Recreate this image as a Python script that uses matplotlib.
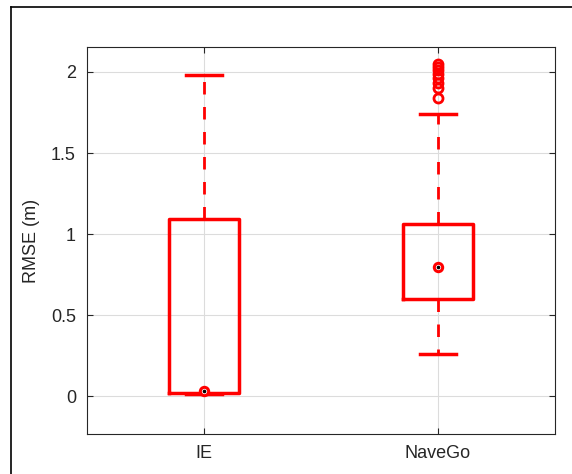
import matplotlib
matplotlib.use("Agg")
import matplotlib.pyplot as plt
from matplotlib.lines import Line2D

plt.rcParams['font.family'] = ['Liberation Sans', 'DejaVu Sans']
plt.rcParams['lines.scale_dashes'] = False

categories = ["IE", "NaveGo"]
medians = [0.035, 0.794]
q1 = [0.02, 0.60]
q3 = [1.094, 1.062]
whislo = [0.011, 0.259]
whishi = [1.98, 1.743]
fliers_ie = []
fliers_navego = [1.84, 1.90, 1.93, 1.96, 1.99, 2.01, 2.03, 2.05]
fliers = [fliers_ie, fliers_navego]
yticks = [0, 0.5, 1, 1.5, 2]
yticklabels = ["0", "0.5", "1", "1.5", "2"]

positions = [1, 2]
stats = []
for i in range(len(categories)):
    stats.append(dict(med=medians[i], q1=q1[i], q3=q3[i], whislo=whislo[i],
                      whishi=whishi[i], fliers=fliers[i], label=categories[i]))

fig = plt.figure(figsize=(5.72, 4.74), dpi=100)
ax = fig.add_axes([87/572, 1 - 434/474, (555 - 87)/572, (434 - 47)/474])

red = '#ff0000'
ax.bxp(stats, positions=positions, widths=0.3, capwidths=0.15,
       boxprops=dict(color=red, linewidth=2.5),
       whiskerprops=dict(color=red, linewidth=2.0, linestyle=(0, (9, 9))),
       capprops=dict(color=red, linewidth=2.5),
       medianprops=dict(linewidth=0),
       flierprops=dict(marker='o', markeredgecolor=red, markerfacecolor='none',
                       markersize=6.5, markeredgewidth=2.0),
       manage_ticks=False, zorder=3)

ax.plot(positions, medians, linestyle='none', marker='o', markersize=6,
        markerfacecolor='white', markeredgecolor=red, markeredgewidth=2.2, zorder=4)
ax.plot(positions, medians, linestyle='none', marker='o', markersize=1.6,
        markerfacecolor='black', markeredgecolor='black', zorder=5)

ax.set_xlim(0.5, 2.5)
ax.set_ylim(-0.233, 2.154)
ax.set_xticks(positions)
ax.set_xticklabels(categories, fontsize=13, color='#262626')
ax.set_yticks(yticks)
ax.set_yticklabels(yticklabels, fontsize=13, color='#262626')
ax.set_ylabel("RMSE (m)", fontsize=13, color='#262626', labelpad=8)

ax.grid(True, color='#dcdcdc', linewidth=0.8, zorder=0)
ax.set_axisbelow(True)
ax.tick_params(direction='in', length=4, width=0.8, colors='#262626',
               top=True, right=True, pad=8)
for s in ax.spines.values():
    s.set_color('#262626')
    s.set_linewidth(0.8)

# outer window frame (top and left edges)
fig.add_artist(Line2D([11/572, 1.0], [1 - 7/474, 1 - 7/474], color='black',
                      linewidth=1.2, transform=fig.transFigure))
fig.add_artist(Line2D([11/572, 11/572], [0.0, 1 - 7/474], color='black',
                      linewidth=1.2, transform=fig.transFigure))

fig.savefig("out.png", dpi=100)
